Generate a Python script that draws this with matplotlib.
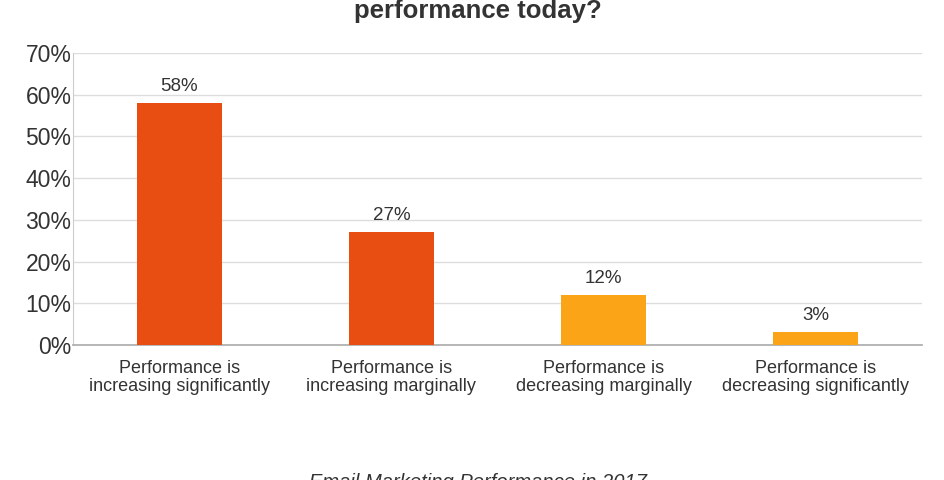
import matplotlib.pyplot as plt
from matplotlib.ticker import FuncFormatter

plt.rcParams['font.family'] = ['Liberation Sans', 'DejaVu Sans']

categories = ['Performance is\nincreasing significantly',
              'Performance is\nincreasing marginally',
              'Performance is\ndecreasing marginally',
              'Performance is\ndecreasing significantly']
values = [58, 27, 12, 3]
colors = ['#E84E12', '#E84E12', '#FBA418', '#FBA418']

fig = plt.figure(figsize=(9.45, 4.8), dpi=100)
ax = fig.add_axes([0.0772, 0.28125, 0.8985, 0.6085])

x = range(len(categories))
bars = ax.bar(x, values, width=0.4, color=colors, zorder=3)
for b, v in zip(bars, values):
    ax.annotate(f'{v}%', (b.get_x() + b.get_width() / 2, v),
                xytext=(0, 6), textcoords='offset points',
                ha='center', va='bottom', fontsize=13.5, color='#333333')

ax.set_xlim(-0.5, len(categories) - 0.5)
ax.set_ylim(0, 70)
ax.set_yticks(range(0, 71, 10))
ax.yaxis.set_major_formatter(FuncFormatter(lambda v, p: f'{int(v)}%'))
ax.set_xticks(list(x))
ax.set_xticklabels(categories, fontsize=13, color='#333333', linespacing=1.08)
ax.tick_params(axis='y', labelsize=16.5, labelcolor='#333333', length=0, pad=1)
ax.tick_params(axis='x', length=0, pad=11)
ax.grid(axis='y', color='#dddddd', linewidth=1, zorder=0)

for s in ['top', 'right']:
    ax.spines[s].set_visible(False)
ax.spines['left'].set_color('#cccccc')
ax.spines['bottom'].set_color('#aaaaaa')
ax.spines['bottom'].set_linewidth(1.2)

fig.text(0.506, 0.9625, 'performance today?', ha='center', va='baseline',
         fontsize=18.5, fontweight='bold', color='#333333')
fig.text(0.506, 0.0146, 'Email Marketing Performance in 2017', ha='center',
         va='top', fontsize=14.5, style='italic', color='#333333')

fig.savefig('out.png', dpi=100)
